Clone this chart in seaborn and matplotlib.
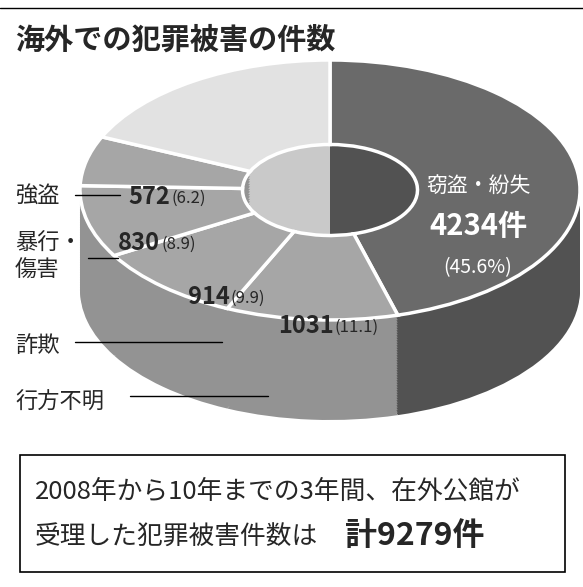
import matplotlib
matplotlib.use("Agg")
import matplotlib.pyplot as plt
import seaborn as sns
from matplotlib.lines import Line2D
from matplotlib.patches import Rectangle

sns.set_style("white")
plt.rcParams['font.family'] = ['Noto Sans CJK JP', 'DejaVu Sans']

# data (clockwise from 12 o'clock)
categories = ["窃盗・紛失", "行方不明", "詐欺", "暴行・傷害", "強盗", "その他"]
counts = [4234, 1031, 914, 830, 572, 1698]
shares = ["45.6", "11.1", "9.9", "8.9", "6.2", "18.3"]
top_colors = ["#6a6a6a", "#a6a6a6", "#a6a6a6", "#a6a6a6", "#a6a6a6", "#e2e2e2"]
side_colors = ["#525252", "#939393", "#939393", "#939393", "#939393", "#c9c9c9"]

W, H = 583, 587
fig = plt.figure(figsize=(W / 100, H / 100), dpi=100)

def fx(x):
    return x / W

def fy(y):
    return 1 - y / H

# donut axes: top face ellipse 500x260 px, extruded ~100 px
top_px, bot_px = 60, 430
ax = fig.add_axes([fx(80), fy(bot_px), 500 / W, (bot_px - top_px) / H])
depth = 100 / 130
n_layers = 40
for k in range(n_layers, 0, -1):
    ax.pie(counts, radius=1, center=(0, -depth * k / n_layers), startangle=90,
           counterclock=False, colors=side_colors,
           wedgeprops=dict(width=0.65, linewidth=0))
ax.pie(counts, radius=1, center=(0, 0), startangle=90, counterclock=False,
       colors=top_colors, wedgeprops=dict(width=0.65, linewidth=2.5, edgecolor="white"))
ax.set_aspect("auto")
ax.set_xlim(-1, 1)
ax.set_ylim(1 - (bot_px - top_px) / 130, 1)
ax.axis("off")

# title
fig.add_artist(Line2D([0, 1], [fy(8), fy(8)], color="black", lw=1))
fig.text(fx(15), fy(40), "海外での犯罪被害の件数", fontsize=21, fontweight="bold", va="center")

# big slice labels
fig.text(fx(478), fy(186), "窃盗・紛失", color="white", fontsize=15, ha="center", va="center")
fig.text(fx(478), fy(226), f"{counts[0]}件", color="white", fontsize=21, fontweight="bold",
         ha="center", va="center")
fig.text(fx(478), fy(268), f"({shares[0]}%)", color="white", fontsize=14, ha="center", va="center")

# small slice labels: (x, y) of number
label_pos = {1: (278, 326), 2: (188, 297), 3: (118, 243), 4: (128, 197)}
for i, (x, y) in label_pos.items():
    t = fig.text(fx(x), fy(y), str(counts[i]), fontsize=17, fontweight="bold", va="center")
    fig.canvas.draw()
    bb = t.get_window_extent()
    fig.text(bb.x1 / W + 0.002, fy(y + 1), f"({shares[i]})", fontsize=12, va="center")

# left labels with leader lines
fig.text(fx(15), fy(195), "強盗", fontsize=16, va="center")
fig.add_artist(Line2D([fx(75), fx(120)], [fy(195), fy(195)], color="black", lw=1))
fig.text(fx(15), fy(257), "暴行・\n傷害", fontsize=16, va="center", linespacing=1.2)
fig.add_artist(Line2D([fx(88), fx(118)], [fy(258), fy(258)], color="black", lw=1))
fig.text(fx(15), fy(345), "詐欺", fontsize=16, va="center")
fig.add_artist(Line2D([fx(75), fx(222)], [fy(342), fy(342)], color="black", lw=1))
fig.text(fx(15), fy(402), "行方不明", fontsize=16, va="center")
fig.add_artist(Line2D([fx(130), fx(268)], [fy(396), fy(396)], color="black", lw=1))

# bottom box
fig.add_artist(Rectangle((fx(20), fy(572)), 545 / W, 117 / H, transform=fig.transFigure,
                         fill=False, edgecolor="black", lw=1.2))
fig.text(fx(35), fy(492), "2008年から10年までの3年間、在外公館が", fontsize=18.5, va="center")
fig.text(fx(35), fy(538), "受理した犯罪被害件数は", fontsize=18.5, va="center")
fig.text(fx(345), fy(536), f"計{sum(counts)}件", fontsize=23, fontweight="bold", va="center")

fig.savefig("out.png", dpi=100)
